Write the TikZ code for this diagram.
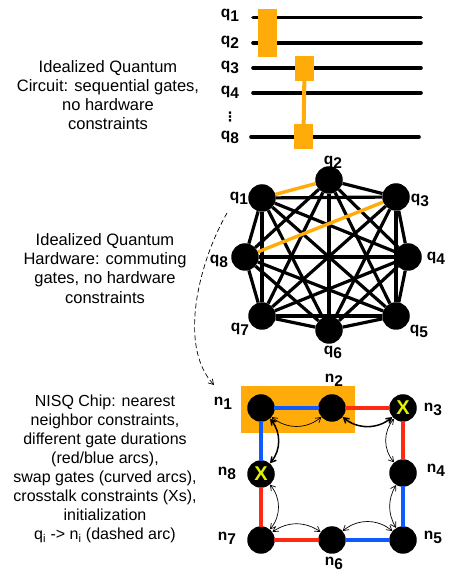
\documentclass[tikz,border=0pt]{standalone}
\usepackage{fontspec}
\setmainfont{Liberation Sans}
\newfontfamily\symfont{DejaVu Sans}
\usetikzlibrary{arrows.meta}
\definecolor{gateorange}{HTML}{FFAB0A}
\definecolor{slowred}{HTML}{FF2A14}
\definecolor{fastblue}{HTML}{0F5AFF}
\definecolor{xyellow}{HTML}{E4F000}
\newcommand{\sublab}[2]{#1\raisebox{-4pt}{#2}}

\begin{document}
\begin{tikzpicture}[
    >={Straight Barb[length=5pt,width=6pt]},
    x=1pt, y=1pt,
    caption/.style={align=center,font=\fontsize{16}{19.1}\selectfont},
    topcaption/.style={align=center,font=\fontsize{16.5}{19.1}\selectfont},
    qlabel/.style={font=\fontsize{15.5}{16}\selectfont\bfseries,inner sep=0pt},
    wire/.style={black,line width=3.6pt,line cap=round},
    gatebox/.style={fill=gateorange,minimum width=19pt,inner sep=0pt},
    qubit/.style={circle,fill=black,minimum size=27.5pt,inner sep=0pt},
    xqubit/.style={qubit,text=xyellow,font=\fontsize{20}{20}\selectfont\bfseries},
    coupling/.style={black,line width=3.2pt},
    active/.style={gateorange,line width=3.4pt},
    redlink/.style={slowred,line width=4pt,shorten <=-1pt,shorten >=-1pt},
    bluelink/.style={fastblue,line width=4pt,shorten <=-1pt,shorten >=-1pt},
    swapthin/.style={<->,black,line width=0.7pt},
    swapthick/.style={<->,black,line width=1.5pt},
  ]
  \useasboundingbox (0,0) rectangle (449,572);

  % --- captions on the left ---
  \node[topcaption] (circuittext) at (108,477) {Idealized Quantum\\Circuit: sequential gates,\\no hardware\\constraints};
  \node[topcaption] (hardwaretext) at (105,303.5) {Idealized Quantum\\Hardware: commuting\\gates, no hardware\\constraints};
  \node[caption] (chiptext) at (105,103) {NISQ Chip: nearest\\neighbor constraints,\\different gate durations\\(red/blue arcs),\\swap gates (curved arcs),\\crosstalk constraints (Xs),\\initialization\\q\textsubscript{i} -> n\textsubscript{i} (dashed arc)};

  % --- circuit: wire labels and wire ends ---
  \node[qlabel] (w1) at (230,557) {\sublab{q}{1}};
  \node[qlabel] (w2) at (230,530) {\sublab{q}{2}};
  \node[qlabel] (w3) at (230,505) {\sublab{q}{3}};
  \node[qlabel] (w4) at (230,480) {\sublab{q}{4}};
  \node[qlabel,font=\fontsize{13}{13}\symfont\bfseries] (wdots) at (230,455) {⋮};
  \node[qlabel] (w8) at (230,435) {\sublab{q}{8}};
  \coordinate (w1a) at (253,554.5);
  \coordinate (w1b) at (421,554.5);
  \coordinate (w2a) at (253,529);
  \coordinate (w2b) at (421,529);
  \coordinate (w3a) at (253,504);
  \coordinate (w3b) at (421,504);
  \coordinate (w4a) at (253,479);
  \coordinate (w4b) at (421,479);
  \coordinate (w8a) at (251,435);
  \coordinate (w8b) at (419,435);
  \foreach \w in {1,2,3,4,8} {
    \draw[wire] (w\w a) -- (w\w b);
  }

  % --- circuit: the gates ---
  \node[gatebox,minimum height=48pt] (gate12) at (267.5,539) {};
  \node[gatebox,minimum height=25pt] (gate3) at (304.5,503.5) {};
  \node[gatebox,minimum height=25pt] (gate8) at (303.5,435.5) {};
  \draw[gateorange,line width=4pt] (gate3) -- (gate8);

  % --- all-to-all hardware ---
  \node[qubit] (a1) at (262,374) {};
  \node[qubit] (a2) at (329,392) {};
  \node[qubit] (a3) at (396,375) {};
  \node[qubit] (a4) at (408,315) {};
  \node[qubit] (a5) at (396,256) {};
  \node[qubit] (a6) at (329,242) {};
  \node[qubit] (a7) at (262,256) {};
  \node[qubit] (a8) at (245,315) {};
  \foreach \s/\t in {1/3,1/4,1/5,1/6,1/7,1/8,2/3,2/4,2/5,2/6,2/7,2/8,3/4,3/5,3/6,3/7,
                     4/5,4/6,4/7,4/8,5/6,5/7,5/8,6/7,6/8,7/8} {
    \draw[coupling] (a\s) -- (a\t);
  }
  \draw[active] (a1) -- (a2);
  \draw[active] (a3) -- (a8);
  \node[qlabel] (b1) at (239,374) {\sublab{q}{1}};
  \node[qlabel] (b2) at (333,410) {\sublab{q}{2}};
  \node[qlabel] (b3) at (420,372) {\sublab{q}{3}};
  \node[qlabel] (b4) at (436,314) {\sublab{q}{4}};
  \node[qlabel] (b5) at (419,241) {\sublab{q}{5}};
  \node[qlabel] (b6) at (333,220) {\sublab{q}{6}};
  \node[qlabel] (b7) at (240,243) {\sublab{q}{7}};
  \node[qlabel] (b8) at (219,311) {\sublab{q}{8}};

  % --- initialization arc ---
  \coordinate (initfrom) at (227,359);
  \coordinate (initto) at (214,187);
  \draw[->,dash pattern=on 5pt off 3pt,line width=0.7pt] (initfrom) .. controls (200,312) and (177,227) .. (initto);

  % --- NISQ chip ---
  \node[fill=gateorange,minimum width=114pt,minimum height=47pt,inner sep=0pt] (pair) at (298,162.5) {};
  \node[qubit] (n1) at (261,164) {};
  \node[qubit] (n2) at (332,164) {};
  \node[xqubit] (n3) at (403,164) {X};
  \node[qubit] (n4) at (403,99) {};
  \node[qubit] (n5) at (403,32) {};
  \node[qubit] (n6) at (332,32) {};
  \node[qubit] (n7) at (261,32) {};
  \node[xqubit] (n8) at (261,98) {X};
  \node[qlabel] (m1) at (223,169) {\sublab{n}{1}};
  \node[qlabel] (m2) at (334,192) {\sublab{n}{2}};
  \node[qlabel] (m3) at (433,163) {\sublab{n}{3}};
  \node[qlabel] (m4) at (436,102) {\sublab{n}{4}};
  \node[qlabel] (m5) at (433,35) {\sublab{n}{5}};
  \node[qlabel] (m6) at (334,9) {\sublab{n}{6}};
  \node[qlabel] (m7) at (227,34) {\sublab{n}{7}};
  \node[qlabel] (m8) at (227,99) {\sublab{n}{8}};

  % --- gate durations ---
  \draw[bluelink] (n1) -- (n2);
  \draw[redlink] (n2) -- (n3);
  \draw[redlink] (n3) -- (n4);
  \draw[bluelink] (n4) -- (n5);
  \draw[bluelink] (n5) -- (n6);
  \draw[redlink] (n6) -- (n7);
  \draw[redlink] (n7) -- (n8);
  \draw[bluelink] (n8) -- (n1);

  % --- swaps ---
  \draw[swapthin] (n1) to[bend right=40] (n2);
  \draw[swapthick] (n2) to[bend right=40] (n3);
  \draw[swapthin] (n3) to[bend right=40] (n4);
  \draw[swapthin] (n4) to[bend right=30] (n5);
  \draw[swapthin] (n5) to[bend right=40] (n6);
  \draw[swapthin] (n6) to[bend right=35] (n7);
  \draw[swapthin] (n7) to[bend right=40] (n8);
  \draw[swapthick] (n8) to[bend right=40] (n1);

\end{tikzpicture}
\end{document}
